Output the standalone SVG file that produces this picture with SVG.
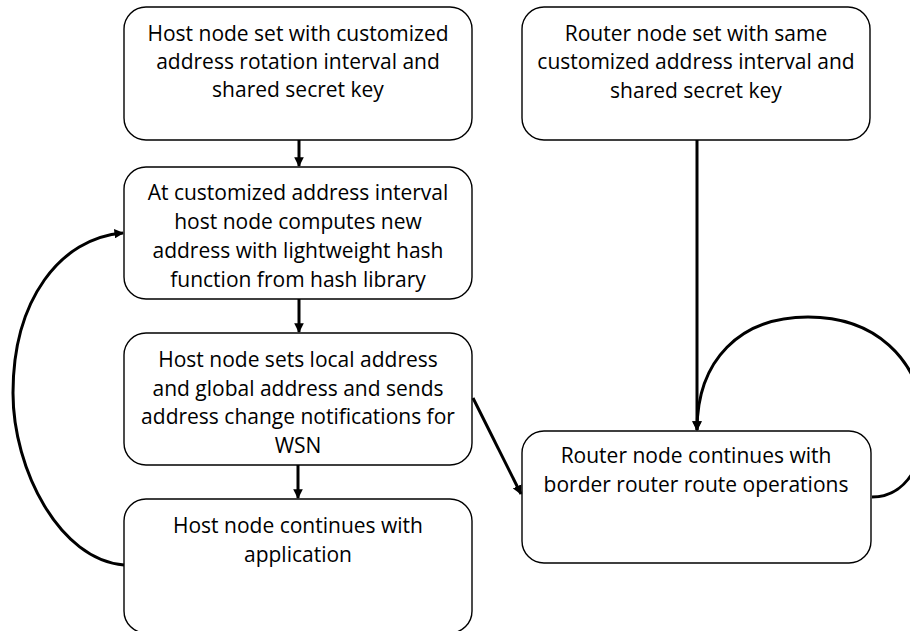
<svg xmlns="http://www.w3.org/2000/svg" width="910" height="631" viewBox="0 0 910 631">
  <defs>
    <style>
      .box { fill: #ffffff; stroke: #000000; stroke-width: 1.4; }
      .label { font-family: "Open Sans", "Noto Sans", "Liberation Sans", sans-serif; font-size: 21px; fill: #000000; text-anchor: middle; }
      .edge { fill: none; stroke: #000000; stroke-width: 3; }
    </style>
    <marker id="arrow" viewBox="0 0 10 10" refX="9" refY="5" markerWidth="3.2" markerHeight="3.2" orient="auto" markerUnits="strokeWidth">
      <path d="M0,0 L10,5 L0,10 z" fill="#000000"/>
    </marker>
  </defs>
  <rect width="910" height="631" fill="#ffffff"/>

  <!-- host side -->
  <g id="host-setup">
    <rect class="box" x="124" y="7" width="348" height="133" rx="22"/>
    <text class="label" x="298" y="41">Host node set with customized</text>
    <text class="label" x="298" y="69">address rotation interval and</text>
    <text class="label" x="298" y="97">shared secret key</text>
  </g>
  <g id="host-compute">
    <rect class="box" x="124" y="167" width="348" height="132" rx="22"/>
    <text class="label" x="298" y="200">At customized address interval</text>
    <text class="label" x="298" y="229">host node computes new</text>
    <text class="label" x="298" y="258">address with lightweight hash</text>
    <text class="label" x="298" y="287">function from hash library</text>
  </g>
  <g id="host-set-address">
    <rect class="box" x="124" y="333" width="348" height="132" rx="22"/>
    <text class="label" x="298" y="367">Host node sets local address</text>
    <text class="label" x="298" y="396">and global address and sends</text>
    <text class="label" x="298" y="424">address change notifications for</text>
    <text class="label" x="298" y="453">WSN</text>
  </g>
  <g id="host-application">
    <rect class="box" x="124" y="499" width="348" height="134" rx="22"/>
    <text class="label" x="298" y="533">Host node continues with</text>
    <text class="label" x="298" y="562">application</text>
  </g>

  <!-- router side -->
  <g id="router-setup">
    <rect class="box" x="522" y="7" width="348" height="133" rx="22"/>
    <text class="label" x="696" y="41">Router node set with same</text>
    <text class="label" x="696" y="69">customized address interval and</text>
    <text class="label" x="696" y="98">shared secret key</text>
  </g>
  <g id="router-operations">
    <rect class="box" x="522" y="431" width="349" height="132" rx="22"/>
    <text class="label" x="696" y="463">Router node continues with</text>
    <text class="label" x="696" y="492">border router route operations</text>
  </g>

  <g id="connectors">
    <path class="edge" d="M299,140 L299,166" marker-end="url(#arrow)"/>
    <path class="edge" d="M299,299 L299,332" marker-end="url(#arrow)"/>
    <path class="edge" d="M298,465 L298,498" marker-end="url(#arrow)"/>
    <path class="edge" d="M697,140 L697,430" marker-end="url(#arrow)"/>
    <path class="edge" d="M473,398 L521,494" marker-end="url(#arrow)"/>
    <!-- loop back from application to address computation -->
    <path class="edge" d="M124,565 C60,560 13,470 13,393 C13,300 60,238 123,233" marker-end="url(#arrow)"/>
    <!-- router self loop -->
    <path class="edge" d="M872,497 C950,497 950,317 808,317 C740,317 697,360 697,430" marker-end="url(#arrow)"/>
  </g>
</svg>
